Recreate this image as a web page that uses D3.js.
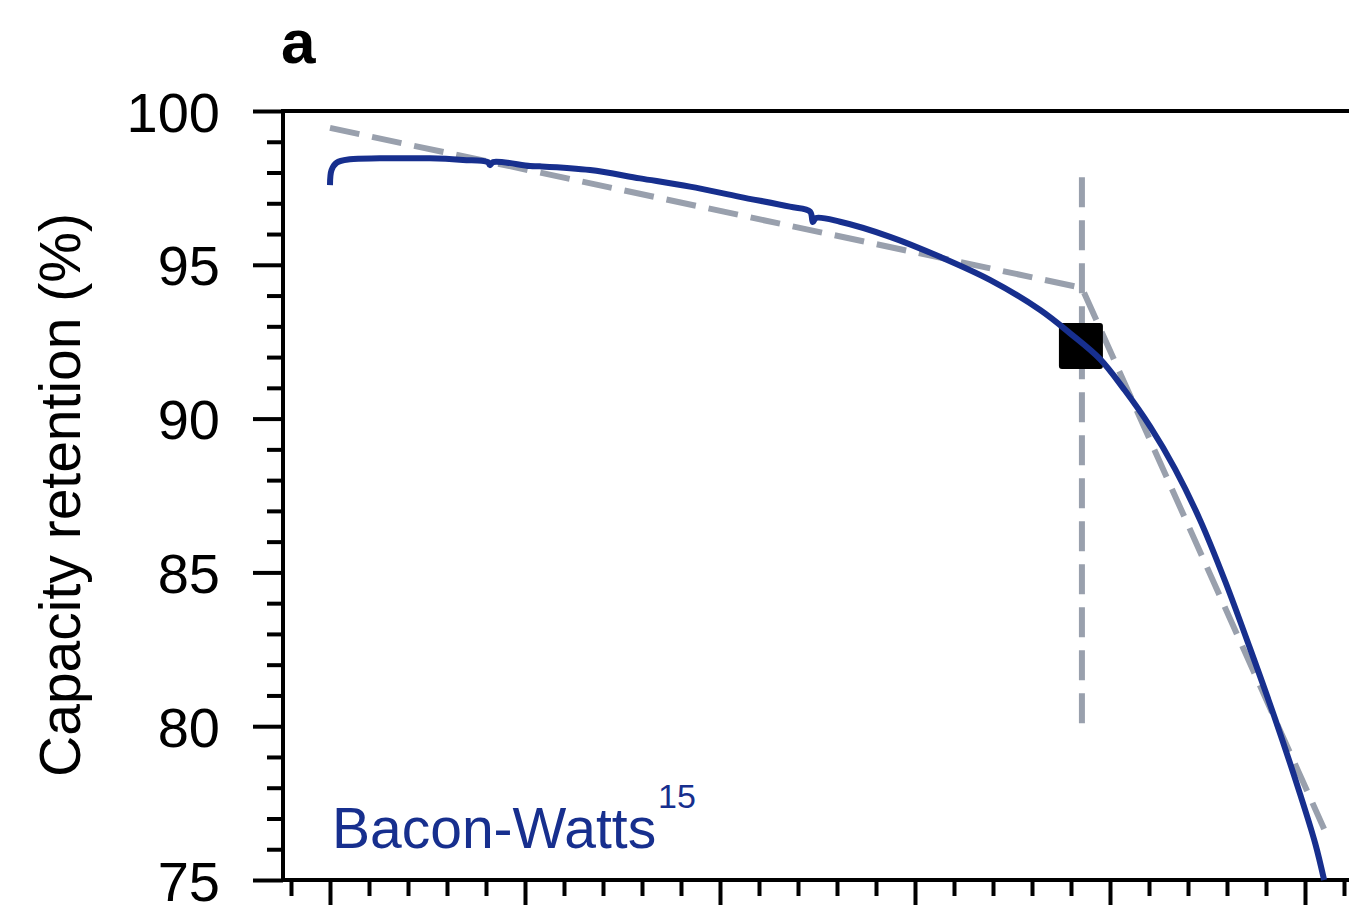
<!DOCTYPE html>
<html>
<head>
<meta charset="utf-8">
<script src="https://cdn.jsdelivr.net/npm/d3@7"></script>
<style>
  body { margin: 0; background: #fff; }
  svg { display: block; font-family: Arial, "Liberation Sans", Helvetica, sans-serif; }
</style>
</head>
<body>
<div id="chart"></div>
<script>
// capacity retention curve (cycle, %)
var cycles = [0, 4, 17, 51, 128, 256, 341, 405, 410, 418, 513, 538, 667, 795, 923, 1051,
  1179, 1231, 1238, 1246, 1308, 1436, 1564, 1692, 1821, 1897, 1974, 2038, 2103, 2167,
  2231, 2295, 2359, 2423, 2487, 2526, 2549];
var retention = [97.59, 98.08, 98.32, 98.43, 98.46, 98.46, 98.41, 98.34, 98.24, 98.34,
  98.21, 98.20, 98.08, 97.81, 97.54, 97.21, 96.89, 96.73, 96.39, 96.52, 96.40, 95.91,
  95.26, 94.51, 93.53, 92.78, 91.94, 90.92, 89.74, 88.36, 86.70, 84.72, 82.53, 80.25,
  77.81, 76.20, 75.00];

// Bacon-Watts fit: two straight segments and the breakpoint
var fitCycles = [0, 1928, 2549];
var fitValues = [99.45, 94.25, 76.66];
var knee = { cycle: 1928, from: 97.85, to: 80, marker: 92.36 };

var yTicks = [75, 80, 85, 90, 95, 100];

var W = 1349, H = 905;
var svg = d3.select('#chart').append('svg')
  .attr('width', W)
  .attr('height', H);

var x = d3.scaleLinear().domain([-120.5, 2700]).range([283, 330 + 0.39 * 2700]);
var y = d3.scaleLinear().domain([75, 100]).range([880, 111]);

var axisColor = '#000';

// minor ticks first, then majors
svg.append('g')
  .attr('transform', 'translate(283,0)')
  .call(d3.axisLeft(y).tickValues(d3.range(76, 100, 1).filter(d => d % 5 !== 0)).tickSize(16).tickFormat(''))
  .call(g => g.select('.domain').remove());

svg.append('g')
  .attr('class', 'y axis')
  .attr('transform', 'translate(283,0)')
  .call(d3.axisLeft(y).tickValues(yTicks).tickSize(30).tickPadding(33).tickFormat(d3.format('d')))
  .call(g => g.select('.domain').remove())
  .call(g => g.selectAll('text').attr('font-size', '56px').attr('fill', '#000').attr('dy', '0.36em'));

svg.append('g')
  .attr('transform', 'translate(0,880)')
  .call(d3.axisBottom(x).tickValues(d3.range(-100, 2700, 100).filter(d => d % 500 !== 0)).tickSize(16).tickFormat(''))
  .call(g => g.select('.domain').remove());

svg.append('g')
  .attr('transform', 'translate(0,880)')
  .call(d3.axisBottom(x).tickValues(d3.range(0, 2700, 500)).tickSize(32).tickFormat(''))
  .call(g => g.select('.domain').remove());

svg.selectAll('.tick line').attr('stroke', axisColor).attr('stroke-width', 4);

// frame
svg.append('line').attr('x1', 283).attr('x2', 283).attr('y1', 109).attr('y2', 882)
  .attr('stroke', axisColor).attr('stroke-width', 4);
svg.append('line').attr('x1', 281).attr('x2', W).attr('y1', 111).attr('y2', 111)
  .attr('stroke', axisColor).attr('stroke-width', 4);
svg.append('line').attr('x1', 281).attr('x2', W).attr('y1', 880).attr('y2', 880)
  .attr('stroke', axisColor).attr('stroke-width', 4);

var gray = '#99a0ad';
var blue = '#172f8e';

// fitted segments
var fitLine = d3.line().x((d, i) => x(fitCycles[i])).y(d => y(d));
svg.append('path')
  .attr('d', fitLine(fitValues))
  .attr('fill', 'none')
  .attr('stroke', gray)
  .attr('stroke-width', 6)
  .attr('stroke-dasharray', '30,13');

svg.append('line')
  .attr('x1', x(knee.cycle)).attr('x2', x(knee.cycle))
  .attr('y1', y(knee.from)).attr('y2', y(knee.to))
  .attr('stroke', gray)
  .attr('stroke-width', 6)
  .attr('stroke-dasharray', '30,13');

// knee marker
svg.append('rect')
  .attr('x', x(knee.cycle) - 23)
  .attr('y', y(knee.marker) - 23)
  .attr('width', 44)
  .attr('height', 46)
  .attr('rx', 3)
  .attr('fill', '#000');

// data curve
var line = d3.line()
  .x((d, i) => x(cycles[i]))
  .y(d => y(d))
  .curve(d3.curveCatmullRom.alpha(0.5));

svg.append('path')
  .attr('d', line(retention))
  .attr('fill', 'none')
  .attr('stroke', blue)
  .attr('stroke-width', 6)
  .attr('stroke-linejoin', 'round');

// labels
svg.append('text')
  .attr('x', 281).attr('y', 63)
  .attr('font-size', '62px').attr('font-weight', 'bold')
  .text('a');

svg.append('text')
  .attr('transform', 'translate(80,495) rotate(-90)')
  .attr('text-anchor', 'middle')
  .attr('font-size', '57px')
  .text('Capacity retention (%)');

svg.append('text')
  .attr('x', 332).attr('y', 848)
  .attr('font-size', '57px')
  .attr('fill', blue)
  .text('Bacon-Watts');

svg.append('text')
  .attr('x', 658).attr('y', 808)
  .attr('font-size', '34px')
  .attr('fill', blue)
  .text('15');
</script>
</body>
</html>
